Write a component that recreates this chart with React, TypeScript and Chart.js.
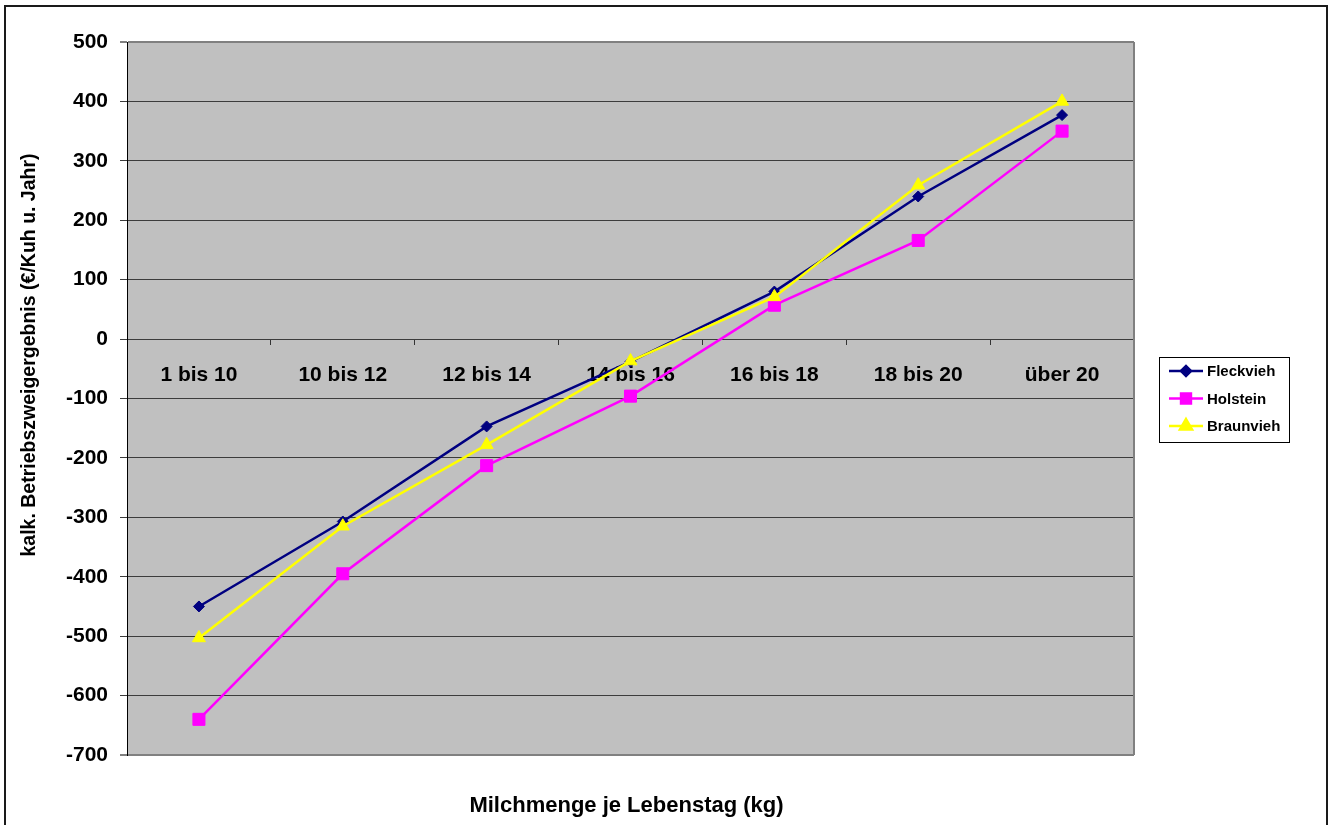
import { useEffect, useRef } from 'react';
import { Chart, registerables } from 'chart.js';
import { drawPoint } from 'chart.js/helpers';

Chart.register(...registerables);

// Categories along the x axis (milk yield per day of life)
const categories = ['1 bis 10', '10 bis 12', '12 bis 14', '14 bis 16', '16 bis 18', '18 bis 20', 'über 20'];

// Calculated profit per cow and year for each breed
const fleckvieh = [-450, -307, -147, -38, 80, 240, 377];
const holstein = [-640, -395, -213, -96, 57, 166, 350];
const braunvieh = [-503, -315, -178, -37, 71, 259, 400];

const seriesNames = ['Fleckvieh', 'Holstein', 'Braunvieh'];

const yMin = -700;
const yMax = 500;
const yStep = 100;

const xTitle = 'Milchmenge je Lebenstag (kg)';
const yTitle = 'kalk. Betriebszweigergebnis (€/Kuh u. Jahr)';

const FONT = "'Liberation Sans', Arial, Helvetica, sans-serif";

const decorPlugin = {
  id: 'decor',
  beforeDraw(chart: any) {
    const { ctx, chartArea, width, height } = chart;
    ctx.save();
    ctx.fillStyle = '#ffffff';
    ctx.fillRect(0, 0, width, height);
    // outer frame
    ctx.strokeStyle = '#1a1a1a';
    ctx.lineWidth = 2;
    ctx.strokeRect(5, 6, width - 12, height + 20);
    // plot background
    ctx.fillStyle = '#c0c0c0';
    ctx.fillRect(chartArea.left, chartArea.top, chartArea.right - chartArea.left, chartArea.bottom - chartArea.top);
    ctx.restore();
  },
  beforeDatasetsDraw(chart: any) {
    const { ctx, chartArea } = chart;
    ctx.save();
    ctx.strokeStyle = '#808080';
    ctx.lineWidth = 2;
    ctx.beginPath();
    ctx.moveTo(chartArea.right, chartArea.top);
    ctx.lineTo(chartArea.right, chartArea.bottom);
    ctx.stroke();
    ctx.restore();
  },
  afterDraw(chart: any) {
    const { ctx, chartArea } = chart;
    ctx.save();
    ctx.fillStyle = '#000';
    ctx.textAlign = 'center';
    ctx.textBaseline = 'middle';

    // x axis title
    ctx.font = `bold 22px ${FONT}`;
    ctx.fillText(xTitle, (chartArea.left + chartArea.right) / 2 - 4, 806);

    // y axis title
    ctx.save();
    ctx.translate(30, 355);
    ctx.rotate(-Math.PI / 2);
    ctx.font = `bold 19.5px ${FONT}`;
    ctx.fillText(yTitle, 0, 0);
    ctx.restore();

    // legend
    const bx = 1159.5, by = 357.5, bw = 130, bh = 85;
    ctx.fillStyle = '#ffffff';
    ctx.fillRect(bx, by, bw, bh);
    ctx.strokeStyle = '#000';
    ctx.lineWidth = 1;
    ctx.strokeRect(bx, by, bw, bh);

    const rows = [371, 398.5, 426];
    const legendRadius = [5, 7, 7];
    chart.data.datasets.forEach((ds: any, i: number) => {
      const y = rows[i];
      ctx.strokeStyle = ds.borderColor;
      ctx.lineWidth = 2.5;
      ctx.beginPath();
      ctx.moveTo(1169, y);
      ctx.lineTo(1203, y);
      ctx.stroke();
      ctx.fillStyle = ds.pointBackgroundColor;
      ctx.strokeStyle = ds.pointBorderColor;
      drawPoint(ctx, { pointStyle: ds.pointStyle, radius: legendRadius[i], borderWidth: 1, rotation: 0 } as any, 1186, y);
      ctx.fillStyle = '#000';
      ctx.font = `bold 15px ${FONT}`;
      ctx.textAlign = 'left';
      ctx.textBaseline = 'middle';
      ctx.fillText(ds.label, 1207, y + 1);
    });
    ctx.restore();
  },
};

export default function App() {
  const canvasRef = useRef<HTMLCanvasElement | null>(null);

  useEffect(() => {
    const canvas = canvasRef.current;
    if (!canvas) return;

    const chart = new Chart(canvas, {
      type: 'line',
      data: {
        labels: categories,
        datasets: [
          {
            label: seriesNames[0],
            data: fleckvieh,
            borderColor: '#000080',
            backgroundColor: '#000080',
            pointBackgroundColor: '#000080',
            pointBorderColor: '#000080',
            pointStyle: 'rectRot',
            pointRadius: 5.5,
            pointBorderWidth: 1,
            borderWidth: 2.5,
            order: 2,
          },
          {
            label: seriesNames[1],
            data: holstein,
            borderColor: '#ff00ff',
            backgroundColor: '#ff00ff',
            pointBackgroundColor: '#ff00ff',
            pointBorderColor: '#ff00ff',
            pointStyle: 'rect',
            pointRadius: 8.5,
            pointBorderWidth: 1,
            borderWidth: 2.5,
            order: 1,
          },
          {
            label: seriesNames[2],
            data: braunvieh,
            borderColor: '#ffff00',
            backgroundColor: '#ffff00',
            pointBackgroundColor: '#ffff00',
            pointBorderColor: '#ffff00',
            pointStyle: 'triangle',
            pointRadius: 7.5,
            pointBorderWidth: 1,
            borderWidth: 2.5,
            order: 0,
          },
        ],
      },
      options: {
        animation: false,
        responsive: false,
        maintainAspectRatio: false,
        devicePixelRatio: 1,
        layout: { padding: { left: 0, top: 42, right: 200, bottom: 70 } },
        plugins: {
          legend: { display: false },
          tooltip: { enabled: false },
        },
        elements: { line: { tension: 0 } },
        scales: {
          x: {
            type: 'category',
            position: { y: 0 } as any,
            offset: true,
            grid: {
              display: true,
              drawOnChartArea: false,
              drawTicks: true,
              tickLength: 6,
              offset: true,
              color: '#333333',
              lineWidth: 1,
            },
            border: { display: false },
            ticks: {
              color: '#000',
              font: { family: FONT, size: 21, weight: 'bold' },
              padding: 18,
              maxRotation: 0,
              autoSkip: false,
            },
          },
          y: {
            type: 'linear',
            min: yMin,
            max: yMax,
            afterFit(scale: any) {
              scale.width = 127;
            },
            grid: {
              drawTicks: true,
              tickLength: 7,
              color: (c: any) => (c.tick && (c.tick.value === yMin || c.tick.value === yMax) ? '#808080' : '#3c3c3c'),
              lineWidth: (c: any) => (c.tick && (c.tick.value === yMin || c.tick.value === yMax) ? 2 : 1),
            },
            border: { display: true, color: '#000', width: 1 },
            ticks: {
              stepSize: yStep,
              color: '#000',
              padding: 12,
              font: { family: FONT, size: 21, weight: 'bold' },
              callback: (v: any) => String(v),
            },
          },
        },
      },
      plugins: [decorPlugin],
    });

    return () => chart.destroy();
  }, []);

  return (
    <div style={{ position: 'absolute', left: 0, top: 0, width: 1334, height: 825, background: '#fff' }}>
      <canvas ref={canvasRef} width={1334} height={825} style={{ display: 'block', width: 1334, height: 825 }} />
    </div>
  );
}
